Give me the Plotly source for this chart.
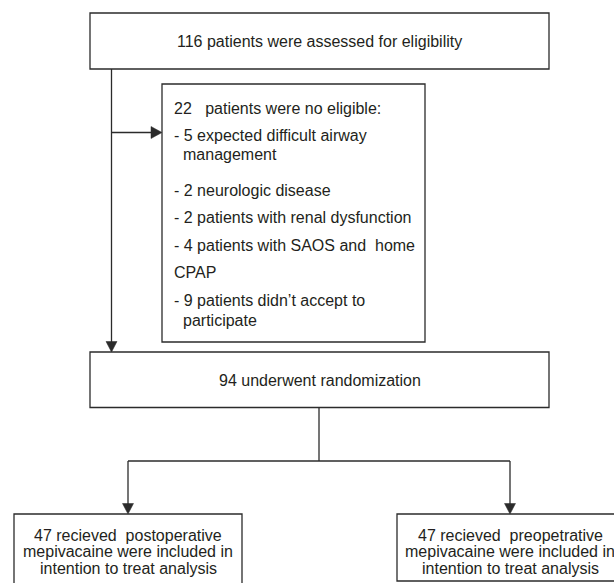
import plotly.graph_objects as go

# ---- content ----
top_text = ["116 patients were assessed for eligibility"]
excl_lines = [
    "22\u00a0\u00a0\u00a0patients were no eligible:",
    "- 5 expected difficult airway",
    "management",
    "- 2 neurologic disease",
    "- 2 patients with renal dysfunction",
    "- 4 patients with SAOS and\u00a0\u00a0home",
    "CPAP",
    "- 9 patients didn\u2019t accept to",
    "participate",
]
excl_indent = [0, 0, 1, 0, 0, 0, 0, 0, 1]
excl_y = [108, 135, 154, 190, 217.5, 245, 272.5, 300, 320]
random_text = ["94 underwent randomization"]
left_lines = ["47 recieved\u00a0\u00a0postoperative", "mepivacaine were included in", "intention to treat analysis"]
right_lines = ["47 recieved\u00a0\u00a0preopetrative", "mepivacaine were included in", "intention to treat analysis"]
bottom_y = [535, 551.7, 568]

W, H = 614, 583
LC = "#2b2b2b"
TC = "#231f20"
FONT = "Liberation Sans, Arial, sans-serif"
FS = 16

fig = go.Figure()
shapes = []
ann = []

def box(x0, y0, x1, y1):
    shapes.append(dict(type="rect", x0=x0, y0=y0, x1=x1, y1=y1, xref="x", yref="y",
                       line=dict(color=LC, width=1.3), fillcolor="rgba(0,0,0,0)"))

def line(x0, y0, x1, y1):
    shapes.append(dict(type="line", x0=x0, y0=y0, x1=x1, y1=y1, xref="x", yref="y",
                       line=dict(color=LC, width=1.3)))

def tri_down(x, y):
    shapes.append(dict(type="path", path=f"M {x-5.5} {y-10.5} L {x+5.5} {y-10.5} L {x} {y} Z",
                       xref="x", yref="y", fillcolor=LC, line=dict(color=LC, width=0.5)))

def tri_right(x, y):
    shapes.append(dict(type="path", path=f"M {x-11} {y-6} L {x-11} {y+6} L {x} {y} Z",
                       xref="x", yref="y", fillcolor=LC, line=dict(color=LC, width=0.5)))

def text(x, y, t, anchor="center"):
    ann.append(dict(x=x, y=y, text=t, showarrow=False, xref="x", yref="y",
                    xanchor=anchor, yanchor="middle",
                    font=dict(family=FONT, size=FS, color=TC)))

# top box
box(90, 13, 549, 69)
text(319.5, 41, top_text[0])

# exclusion box and connectors
box(162, 84, 425, 342)
line(111.5, 69, 111.5, 351)
tri_down(111.5, 352)
line(111.5, 132.5, 160, 132.5)
tri_right(162, 132.5)
for t, ind, y in zip(excl_lines, excl_indent, excl_y):
    text(171.5 + (9 if ind else 0), y, t, anchor="left")

# randomization box
box(90, 352, 549, 407.5)
text(319.5, 380, random_text[0])

# split
line(319, 407.5, 319, 461)
line(128, 461, 510, 461)
line(128, 461, 128, 512)
line(510, 461, 510, 512)
tri_down(128, 514)
tri_down(510, 514)

# bottom boxes
box(14, 514, 242, 590)
box(397, 514, 624, 581)
for t, y in zip(left_lines, bottom_y):
    text(128, y, t)
for t, y in zip(right_lines, bottom_y):
    text(510, y, t)

fig.update_layout(
    width=W, height=H,
    margin=dict(l=0, r=0, t=0, b=0),
    paper_bgcolor="white", plot_bgcolor="white",
    xaxis=dict(range=[0, W], visible=False, fixedrange=True),
    yaxis=dict(range=[H, 0], visible=False, fixedrange=True),
    shapes=shapes, annotations=ann, showlegend=False,
)
fig.write_html("out.html", config={"displayModeBar": False},
               post_script="document.body.style.margin='0px';document.body.style.overflow='hidden';")
